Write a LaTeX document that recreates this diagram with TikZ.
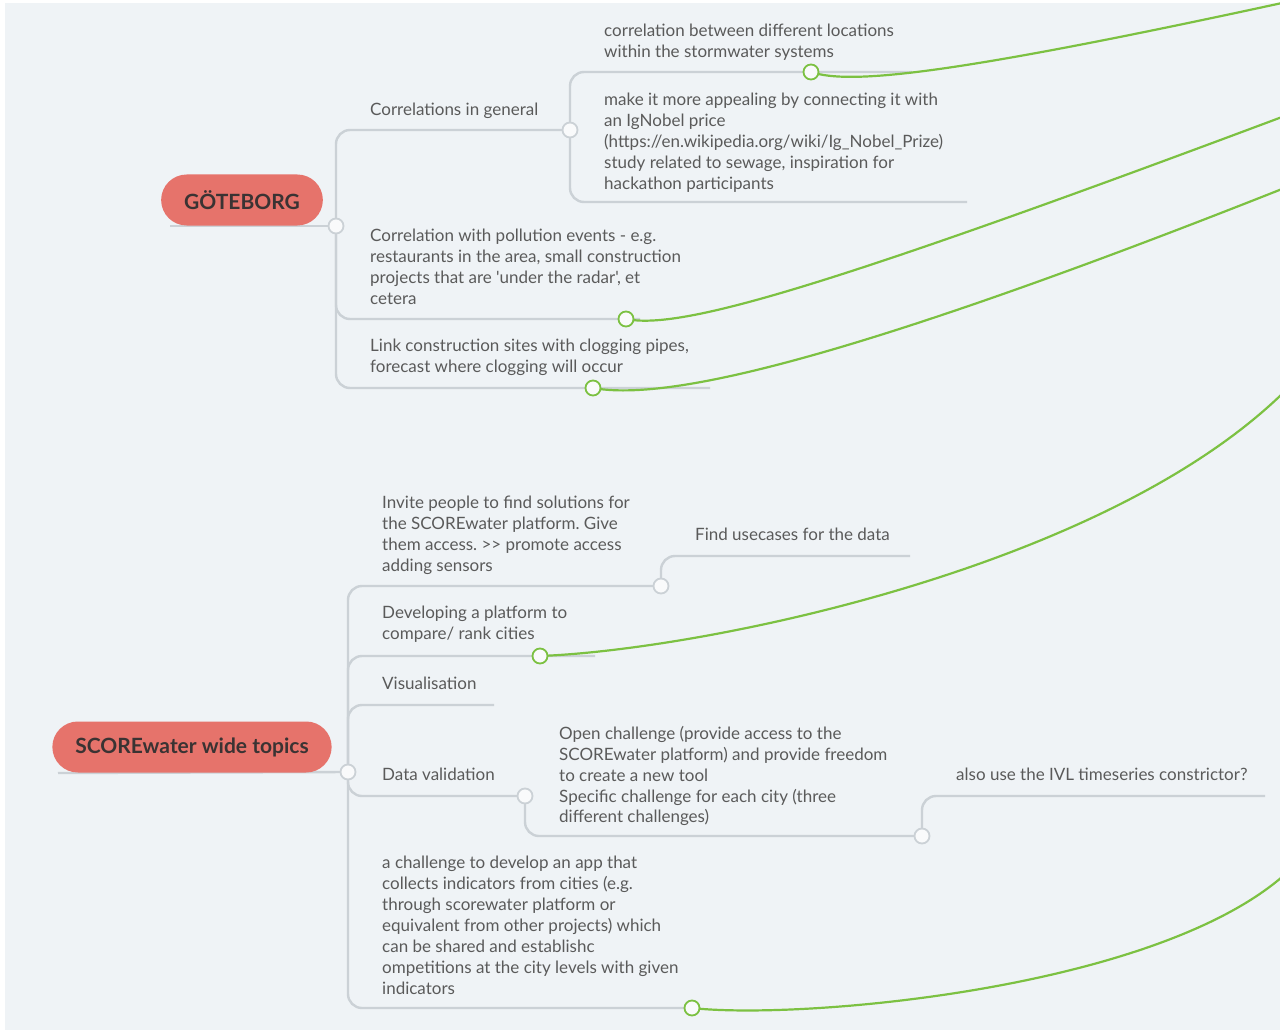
\documentclass[tikz,border=0pt]{standalone}
\usepackage{fontspec}
\setmainfont{Lato}[Ligatures=TeXOff]
\usepackage{tikz}
\usepackage{xcolor}
\definecolor{bg}{HTML}{EFF3F6}
\definecolor{edge}{HTML}{CBD1D6}
\definecolor{leaf}{HTML}{7CC142}
\definecolor{pill}{HTML}{E6736B}
\definecolor{ink}{HTML}{5A5A5A}
\definecolor{rootink}{HTML}{3A3333}
\frenchspacing
\begin{document}
\begin{tikzpicture}[x=1pt,y=-1pt,
  txt/.style={anchor=north west,inner sep=0pt,align=left,text=ink,font=\fontsize{17}{20.9}\selectfont},
  root/.style={fill=pill,rounded corners=25.5pt,minimum height=51pt,inner xsep=23pt,text=rootink,font=\fontsize{21}{24}\selectfont\bfseries},
  branch/.style={edge,line width=2.4pt,rounded corners=14pt},
  link/.style={leaf,line width=2.2pt},
  dot/.style={circle,draw=edge,line width=1.8pt,fill=white!60!bg,minimum size=15pt,inner sep=0pt},
  gdot/.style={dot,draw=leaf}]
\fill[white] (0,0) rectangle (1280,1030);
\fill[bg] (5,3) rectangle (1280,1030);
\useasboundingbox (0,0) rectangle (1280,1030);
\coordinate (gbgL) at (170,226);
\coordinate (c1) at (336,226);
\coordinate (c2) at (570,130);
\coordinate (locE) at (912,72);
\coordinate (igE) at (967,202);
\coordinate (polE) at (640,319);
\coordinate (clogE) at (710,388);
\coordinate (scwL) at (58,773);
\coordinate (c4) at (348,772);
\coordinate (c5) at (661,586);
\coordinate (useE) at (910,556);
\coordinate (platE) at (595,656);
\coordinate (visE) at (494,705);
\coordinate (c6) at (525,796);
\coordinate (c7) at (922,836);
\coordinate (ivlE) at (1265,796);
\coordinate (appE) at (700,1008);
\coordinate (g1) at (811,72);
\coordinate (g2) at (626,319);
\coordinate (g3) at (593,388);
\coordinate (g4) at (540,656);
\coordinate (g5) at (692,1008);
\coordinate (t1) at (1282,3);
\coordinate (t2) at (1282,117);
\coordinate (t3) at (1282,189);
\coordinate (t4) at (1282,394);
\coordinate (t5) at (1282,877);
\draw[branch] (gbgL) -- (c1);
\draw[branch] (c1) |- (c2);
\draw[branch] (c2) |- (locE);
\draw[branch] (c2) |- (igE);
\draw[branch] (c1) |- (polE);
\draw[branch] (c1) |- (clogE);
\draw[branch] (scwL) -- (c4);
\draw[branch] (c4) |- (c5);
\draw[branch] (c5) |- (useE);
\draw[branch] (c4) |- (platE);
\draw[branch] (c4) |- (visE);
\draw[branch] (c4) |- (c6);
\draw[branch] (c6) |- (c7);
\draw[branch] (c7) |- (ivlE);
\draw[branch] (c4) |- (appE);
\draw[link] (g1) .. controls (850,85) and (950,75) .. (t1);
\draw[link] (g2) .. controls (680,330) and (820,290) .. (t2);
\draw[link] (g3) .. controls (660,400) and (820,372) .. (t3);
\draw[link] (g4) .. controls (700,650) and (1100,570) .. (t4);
\draw[link] (g5) .. controls (800,1020) and (1150,990) .. (t5);
\foreach \c in {c1,c2,c4,c5,c6,c7}
  \node[dot] (\c-dot) at (\c) {};
\foreach \g in {g1,g2,g3,g4,g5}
  \node[gdot] (\g-dot) at (\g) {};
\node[root] (gbg) at (242,200) {GÖTEBORG};
\node[root] (scw) at (192,747) {SCOREwater wide topics};
\node[txt] (corrgen) at (370,103) {Correlations in general};
\node[txt] (loc) at (604,24) {correlation between different locations\\within the stormwater systems};
\node[txt] (ignobel) at (604,93) {make it more appealing by connecting it with\\an IgNobel price\\(https://en.wikipedia.org/wiki/Ig\_Nobel\_Prize)\\study related to sewage, inspiration for\\hackathon participants};
\node[txt] (pollution) at (370,229) {Correlation with pollution events - e.g.\\restaurants in the area, small construction\\projects that are 'under the radar', et\\cetera};
\node[txt] (clog) at (370,339) {Link construction sites with clogging pipes,\\forecast where clogging will occur};
\node[txt] (invite) at (382,496) {Invite people to find solutions for\\the SCOREwater platform. Give\\them access. >> promote access\\adding sensors};
\node[txt] (usecases) at (695,528) {Find usecases for the data};
\node[txt] (platform) at (382,606) {Developing a platform to\\compare/ rank cities};
\node[txt] (vis) at (382,677) {Visualisation};
\node[txt] (valid) at (382,768) {Data validation};
\node[txt] (open) at (559,726) {Open challenge (provide access to the\\SCOREwater platform) and provide freedom\\to create a new tool\\Specific challenge for each city (three\\different challenges)};
\node[txt] (ivl) at (956,768) {also use the IVL timeseries constrictor?};
\node[txt] (app) at (382,856) {a challenge to develop an app that\\collects indicators from cities (e.g.\\through scorewater platform or\\equivalent from other projects) which\\can be shared and establishc\\ompetitions at the city levels with given\\indicators};
\end{tikzpicture}
\end{document}
